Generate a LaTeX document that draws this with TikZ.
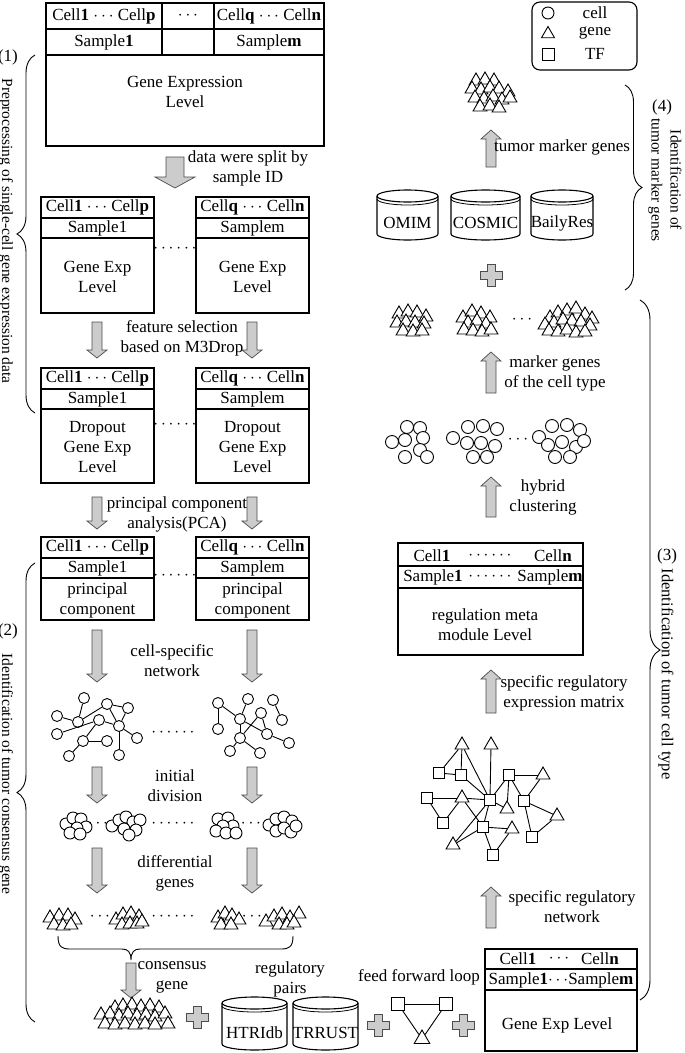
\documentclass[tikz,border=0pt]{standalone}
\usepackage{fontspec}
\setmainfont{Liberation Serif}
\usetikzlibrary{shapes.geometric,decorations.pathreplacing}

\tikzset{
  tbl/.style={draw, line width=1.1pt},
  lbl/.style={align=center, inner sep=0pt},
  steplbl/.style={align=center, inner sep=0pt, rotate=-90, font=\fontsize{15.5}{19}\selectfont},
  cell/.style={circle, draw, fill=white, line width=0.9pt, minimum size=12pt, inner sep=0pt},
  gene/.style={regular polygon, regular polygon sides=3, draw, fill=white, line width=0.9pt, minimum size=16pt, inner sep=0pt},
  tf/.style={rectangle, draw, fill=white, line width=0.9pt, minimum size=11pt, inner sep=0pt},
  link/.style={line width=0.9pt},
  flow/.style={draw=black!70, fill=gray!40, line width=0.7pt},
  bigbrace/.style={decorate, decoration={brace, amplitude=#1}, line width=0.9pt},
}

% gray block arrow: x, tail y, head base y, tip y, half shaft, half head
\newcommand{\flowarrow}[6]{%
  \draw[flow] (#1-#5,#2) -- (#1+#5,#2) -- (#1+#5,#3) -- (#1+#6,#3) -- (#1,#4)
    -- (#1-#6,#3) -- (#1-#5,#3) -- cycle;}
% gray plus sign
\newcommand{\plusmark}[2]{%
  \draw[flow, line width=0.8pt] (#1-4,#2-11) -- (#1+4,#2-11) -- (#1+4,#2-4) -- (#1+11,#2-4)
    -- (#1+11,#2+4) -- (#1+4,#2+4) -- (#1+4,#2+11) -- (#1-4,#2+11) -- (#1-4,#2+4)
    -- (#1-11,#2+4) -- (#1-11,#2-4) -- (#1-4,#2-4) -- cycle;}
% sample table: name, left x, top y, bottom y, header, sample, body
\newcommand{\sampletab}[7]{%
  \draw[tbl] (#2,#3) rectangle (#2+113,#4);
  \draw[tbl] (#2,#3+21) -- (#2+113,#3+21);
  \draw[tbl] (#2,#3+41) -- (#2+113,#3+41);
  \node[lbl] (#1h) at (#2+56.5,#3+10.5) {#5};
  \node[lbl] (#1s) at (#2+56.5,#3+31) {#6};
  \node[lbl] (#1b) at (#2+56.5,{(#3+43+#4)/2}) {#7};}
% database cylinder: name, center x, top y, half width, height, text
\newcommand{\dbcyl}[6]{%
  \begin{scope}[shift={(#2,#3)}]
    \draw[tbl, fill=white] (-#4,6) -- (-#4,#5-6) arc[start angle=180, end angle=360, x radius=#4pt, y radius=6pt] -- (#4,6);
    \draw[tbl] (0,6) ellipse [x radius=#4pt, y radius=6pt];
    \draw[line width=0.8pt] (-#4,9) arc[start angle=180, end angle=360, x radius=#4pt, y radius=6pt];
    \node[lbl] (#1) at (0,#5-17) {#6};
  \end{scope}}

\begin{document}
\begin{tikzpicture}[x=1pt, y=-1pt, font=\fontsize{17}{20}\selectfont]
\useasboundingbox (0,0) rectangle (685,1053);

% ---------- (1) preprocessing ----------
\draw[tbl] (46,3) rectangle (324,146);
\draw[tbl] (46,29) -- (324,29);
\draw[tbl] (46,55) -- (324,55);
\draw[tbl] (162,3) -- (162,55);
\draw[tbl] (214,3) -- (214,55);
\node[lbl] (allh1) at (104,16) {Cell\textbf{1} $\cdots$ Cell\textbf{p}};
\node[lbl] (allh2) at (188,16) {$\cdots$};
\node[lbl] (allh3) at (269,16) {Cell\textbf{q} $\cdots$ Cell\textbf{n}};
\node[lbl] (alls1) at (104,42) {Sample\textbf{1}};
\node[lbl] (alls2) at (269,42) {Sample\textbf{m}};
\node[lbl] (allb) at (185,92) {Gene Expression\\Level};

\flowarrow{175}{157}{177}{188}{9}{20}
\node[lbl] (split) at (248,168) {data were split by\\sample ID};

\sampletab{exl}{41}{197}{313}{Cell\textbf{1} $\cdots$ Cell\textbf{p}}{Sample1}{Gene Exp\\Level}
\sampletab{exr}{196}{197}{313}{Cell\textbf{q} $\cdots$ Cell\textbf{n}}{Samplem}{Gene Exp\\Level}
\node[lbl] (exdots) at (175,249) {$\cdots\cdots$};

\flowarrow{97}{322}{350}{358}{5}{10}
\flowarrow{252}{322}{350}{358}{5}{10}
\node[lbl] (featsel) at (182,338) {feature selection\\based on M3Drop};

\sampletab{dpl}{41}{368}{483}{Cell\textbf{1} $\cdots$ Cell\textbf{p}}{Sample1}{Dropout\\Gene Exp\\Level}
\sampletab{dpr}{196}{368}{483}{Cell\textbf{q} $\cdots$ Cell\textbf{n}}{Samplem}{Dropout\\Gene Exp\\Level}
\node[lbl] (dpdots) at (175,425) {$\cdots\cdots$};

\flowarrow{97}{497}{521}{529}{5}{10}
\flowarrow{252}{497}{521}{529}{5}{10}
\node[lbl] (pca) at (177,514) {principal component\\analysis(PCA)};

\sampletab{pcl}{41}{537}{620}{Cell\textbf{1} $\cdots$ Cell\textbf{p}}{Sample1}{principal\\component}
\sampletab{pcr}{196}{537}{620}{Cell\textbf{q} $\cdots$ Cell\textbf{n}}{Samplem}{principal\\component}
\node[lbl] (pcdots) at (175,576) {$\cdots\cdots$};

\draw[bigbrace=18pt] (35,413) -- (35,55);
\node[lbl] (num1) at (8,57) {(1)};
\node[steplbl] (step1) at (6,231) {Preprocessing of single-cell gene expression data};

% ---------- (2) consensus genes ----------
\flowarrow{97}{630}{674}{682}{5}{10}
\flowarrow{252}{630}{674}{682}{5}{10}
\node[lbl] (csn) at (172,661) {cell-specific\\network};

% cell-specific networks
\foreach \n/\x/\y in {a/57/716, b/84/698, c/107/704, d/128/708, e/78/722, f/99/720, g/119/726,
    h/57/734, i/83/741, j/107/741, k/137/738, l/69/756, m/119/755}
  \node[cell, minimum size=11pt] (ln\n) at (\x,\y) {};
\foreach \u/\v in {a/e, b/e, e/c, c/d, c/g, d/g, h/f, f/g, f/i, i/j, i/l, g/k, g/m}
  \draw[link] (ln\u) -- (ln\v);
\foreach \n/\x/\y in {A/218/703, B/248/699, C/273/700, D/240/719, E/261/713, F/282/720,
    G/218/729, H/240/738, I/267/734, J/289/743, K/230/751, L/260/753}
  \node[cell, minimum size=11pt] (rn\n) at (\x,\y) {};
\foreach \u/\v in {A/G, A/D, B/D, D/I, D/H, E/H, E/I, C/F, I/J, H/K, H/L}
  \draw[link] (rn\u) -- (rn\v);
\node[lbl] (netdots) at (173,733) {$\cdots\cdots$};

\flowarrow{97}{767}{795}{803}{5}{10}
\flowarrow{252}{767}{795}{803}{5}{10}
\node[lbl] (initdiv) at (175,786) {initial\\division};

% initial clusters of cells
\begin{scope}[shift={(76,825)}]
  \foreach \dx/\dy [count=\i] in {-10/-1, -3/-7, 5/-6, 10/2, 1/3, -6/8, 4/9}
    \node[cell] (ca\i) at (\dx,\dy) {};
\end{scope}
\begin{scope}[shift={(126,825)}]
  \foreach \dx/\dy [count=\i] in {-14/1, -7/-5, 0/-8, 7/-3, 14/-5, -2/4, 10/5, 3/10}
    \node[cell] (cb\i) at (\dx,\dy) {};
\end{scope}
\begin{scope}[shift={(226,825)}]
  \foreach \dx/\dy [count=\i] in {-8/-6, 2/-7, 7/1, -3/1, -10/6, 0/8, 10/8}
    \node[cell] (cc\i) at (\dx,\dy) {};
\end{scope}
\begin{scope}[shift={(282,825)}]
  \foreach \dx/\dy [count=\i] in {-13/0, -6/-6, 2/-8, 10/-4, -6/6, 2/3, 9/7, 14/1}
    \node[cell] (cd\i) at (\dx,\dy) {};
\end{scope}
\node[lbl] (cdots1) at (98,824) {$\cdots$};
\node[lbl] (cdots2) at (173,824) {$\cdots\cdots$};
\node[lbl] (cdots3) at (251,824) {$\cdots$};

\flowarrow{97}{848}{885}{893}{5}{10}
\flowarrow{252}{848}{885}{893}{5}{10}
\node[lbl] (diffg) at (175,873) {differential\\genes};

% differential genes
\begin{scope}[shift={(62,921)}]
  \foreach \dx/\dy [count=\i] in {-12/-3, -3/-5, 6/-5, 13/-1, -8/4, 1/5, 9/4}
    \node[gene] (ga\i) at (\dx,\dy) {};
\end{scope}
\begin{scope}[shift={(128,920)}]
  \foreach \dx/\dy [count=\i] in {-12/0, -5/-5, 3/-6, 11/-3, -6/5, 2/4, 9/4, 14/2}
    \node[gene] (gb\i) at (\dx,\dy) {};
\end{scope}
\begin{scope}[shift={(228,920)}]
  \foreach \dx/\dy [count=\i] in {-10/-2, -3/-6, 4/-4, 11/0, -7/5, 3/5}
    \node[gene] (gc\i) at (\dx,\dy) {};
\end{scope}
\begin{scope}[shift={(283,920)}]
  \foreach \dx/\dy [count=\i] in {-17/2, -9/-3, -1/-5, 7/-2, 16/-6, -4/5, 4/5, 11/3}
    \node[gene] (gd\i) at (\dx,\dy) {};
\end{scope}
\node[lbl] (gdots1) at (100,917) {$\cdots$};
\node[lbl] (gdots2) at (173,917) {$\cdots\cdots$};
\node[lbl] (gdots3) at (252,917) {$\cdots$};

\draw[link] (58,936) .. controls (58,947) and (62,949) .. (70,949) -- (122,949)
  .. controls (128,949) and (131,952) .. (131,960)
  .. controls (131,952) and (134,949) .. (140,949) -- (281,949)
  .. controls (289,949) and (293,947) .. (293,936);

\flowarrow{131}{963}{990}{998}{5}{10}
\node[lbl] (consg) at (172,977) {consensus\\gene};

\begin{scope}[shift={(135,1016)}]
  \foreach \dx/\dy [count=\i] in {-20/-8, -12/-10, -3/-11, 6/-9, 15/-10, 24/-8,
      -34/-1, -25/-2, -16/0, -7/-2, 2/0, 11/-1, 20/1, 30/-2,
      -30/8, -20/9, -10/8, 0/9, 10/8, 20/9, 33/8}
    \node[gene] (gcons\i) at (\dx,\dy) {};
\end{scope}

\draw[bigbrace=18pt] (35,1022) -- (35,563);
\node[lbl] (num2) at (8,631) {(2)};
\node[steplbl] (step2) at (6,774) {Identification of tumor consensus gene};

% ---------- regulatory inputs ----------
\plusmark{197}{1017}
\node[lbl] (regpairs) at (290,979) {regulatory\\pairs};
\dbcyl{htri}{254.5}{997}{32.5}{53}{HTRIdb}
\dbcyl{trrust}{325.5}{997}{32.5}{53}{TRRUST}
\plusmark{378}{1025}
\node[lbl] (ffl) at (419,977) {feed forward loop};
\node[tf, minimum size=13pt] (ffla) at (398,1004) {};
\node[tf, minimum size=13pt] (fflb) at (446,1004) {};
\node[gene, minimum size=18pt] (fflc) at (422,1039) {};
\draw[link] (ffla) -- (fflb);
\draw[link] (ffla) -- (fflc);
\draw[link] (fflb) -- (fflc);
\plusmark{463}{1025}

\draw[tbl] (485,949) rectangle (637,1051);
\draw[tbl] (485,969) -- (637,969);
\draw[tbl] (485,990) -- (637,990);
\node[lbl] (geh1) at (518,959) {Cell\textbf{1}};
\node[lbl] (geh2) at (559,959) {$\cdots$};
\node[lbl] (geh3) at (600,959) {Cell\textbf{n}};
\node[lbl] (ges) at (561,980) {Sample\textbf{1}$\cdots$Sample\textbf{m}};
\node[lbl] (geb) at (557,1025) {Gene Exp Level};

% ---------- (3) tumor cell type ----------
\flowarrow{491}{928}{896}{887}{5}{10}
\node[lbl] (srn) at (572,907) {specific regulatory\\network};

% regulatory network
\foreach \n/\x/\y in {1/462/745, 2/491/745, 3/543/775, 4/462/798, 5/507/809, 6/557/816, 7/512/829, 8/453/845}
  \node[gene] (rt\n) at (\x,\y) {};
\foreach \n/\x/\y in {1/439/773, 2/461/775, 3/509/775, 4/427/798, 5/490/800, 6/524/801,
    7/443/823, 8/483/827, 9/532/837, 10/493/855}
  \node[tf] (rs\n) at (\x,\y) {};
\foreach \u/\v in {rt1/rs1, rt1/rs2, rt1/rs5, rt2/rs5, rs1/rs2, rs2/rs5, rs3/rs5, rs3/rt3,
    rs3/rt5, rs3/rs6, rt3/rs6, rs6/rt6, rs6/rs9, rt6/rs9, rs4/rt4, rs4/rs7, rt4/rs7,
    rt4/rs5, rt4/rs8, rs5/rt5, rs5/rs8, rs5/rt8, rs8/rt8, rs8/rt7, rs8/rs10, rs10/rt7}
  \draw[link] (\u) -- (\v);

\flowarrow{491}{713}{679}{670}{5}{10}
\node[lbl] (srem) at (564,693) {specific regulatory\\expression matrix};

\draw[tbl] (398,543) rectangle (583,655);
\draw[tbl] (398,566) -- (583,566);
\draw[tbl] (398,588) -- (583,588);
\node[lbl] (rmh1) at (432,556) {Cell\textbf{1}};
\node[lbl] (rmh2) at (490,556) {$\cdots\cdots$};
\node[lbl] (rmh3) at (553,556) {Cell\textbf{n}};
\node[lbl] (rms1) at (433,577) {Sample\textbf{1}};
\node[lbl] (rms2) at (490,577) {$\cdots\cdots$};
\node[lbl] (rms3) at (550,577) {Sample\textbf{m}};
\node[lbl] (rmb) at (485,625) {regulation meta\\module Level};

\flowarrow{491}{517}{486}{477}{5}{10}
\node[lbl] (hybrid) at (543,497) {hybrid\\clustering};

% cell type clusters
\foreach \x/\y [count=\i] in {392/442, 407/427, 420/428, 405/440, 423/438, 420/450, 405/457, 427/457}
  \node[cell, minimum size=13pt] (ka\i) at (\x,\y) {};
\foreach \x/\y [count=\i] in {453/438, 468/427, 483/426, 497/429, 467/443, 481/443, 495/446, 473/457, 487/457}
  \node[cell, minimum size=13pt] (kb\i) at (\x,\y) {};
\foreach \x/\y [count=\i] in {539/437, 552/426, 567/425, 580/430, 548/445, 562/442, 576/447, 584/441, 555/457, 570/457}
  \node[cell, minimum size=13pt] (kc\i) at (\x,\y) {};
\node[lbl] (kdots) at (518,440) {$\cdots$};

\flowarrow{491}{393}{361}{352}{5}{10}
\node[lbl] (mgc) at (555,373) {marker genes\\of the cell type};

% marker genes of the cell types
\begin{scope}[shift={(413,322)}]
  \foreach \dx/\dy [count=\i] in {-14/-8, -5/-10, 4/-9, 13/-5, -16/1, -7/0, 2/1, 11/2, -10/9, 0/10, 9/9}
    \node[gene] (ma\i) at (\dx,\dy) {};
\end{scope}
\begin{scope}[shift={(476,322)}]
  \foreach \dx/\dy [count=\i] in {-13/-4, -4/-10, 5/-8, 14/-4, -8/1, 1/-1, 10/2, -12/8, -3/9, 6/10, 15/8}
    \node[gene] (mb\i) at (\dx,\dy) {};
\end{scope}
\begin{scope}[shift={(568,322)}]
  \foreach \dx/\dy [count=\i] in {-18/-4, -10/-9, -1/-11, 8/-13, 17/-7, 24/-3, -23/3, -14/1, -5/-2, 4/-1, 13/0, 22/4,
      -19/9, -10/10, -1/8, 8/11, 17/10}
    \node[gene] (mc\i) at (\dx,\dy) {};
\end{scope}
\node[lbl] (mdots) at (522,320) {$\cdots$};

\draw[bigbrace=20pt] (640,300) -- (640,1000);
\node[lbl] (num3) at (667,556) {(3)};
\node[steplbl, font=\fontsize{16.5}{20}\selectfont] (step3) at (666,674) {Identification of tumor cell type};

% ---------- (4) tumor marker genes ----------
\plusmark{491}{275}
\dbcyl{omim}{407.5}{190}{30.5}{50}{OMIM}
\dbcyl{cosmic}{485.5}{190}{34.5}{50}{COSMIC}
\dbcyl{baily}{562}{190}{31}{50}{BailyRes}

\flowarrow{491}{167}{139}{130}{5}{10}
\node[lbl] (tmg) at (562,147) {tumor marker genes};

\begin{scope}[shift={(490,95)}]
  \foreach \dx/\dy [count=\i] in {-14/-14, -5/-15, 4/-14, -18/-6, -9/-5, 0/-7, 9/-6, 18/-3,
      -15/3, -6/4, 3/2, 12/5, 20/3, -10/12, 0/11, 9/13}
    \node[gene] (tm\i) at (\dx,\dy) {};
\end{scope}

\draw[bigbrace=17pt] (625,85) -- (625,290);
\node[lbl] (num4) at (662,107) {(4)};
\node[steplbl] (step4) at (665,180) {Identification of\\tumor marker genes};

% ---------- legend ----------
\draw[line width=1.1pt, rounded corners=8pt] (532,2) rectangle (637,70);
\node[cell, minimum size=12pt] (legc) at (548,13) {};
\node[gene, minimum size=15pt] (legg) at (548,34) {};
\node[tf, minimum size=12pt] (legt) at (548,54) {};
\node[lbl] (legct) at (595,13) {cell};
\node[lbl] (leggt) at (595,33) {gene};
\node[lbl] (legtt) at (595,54) {TF};

\end{tikzpicture}
\end{document}
